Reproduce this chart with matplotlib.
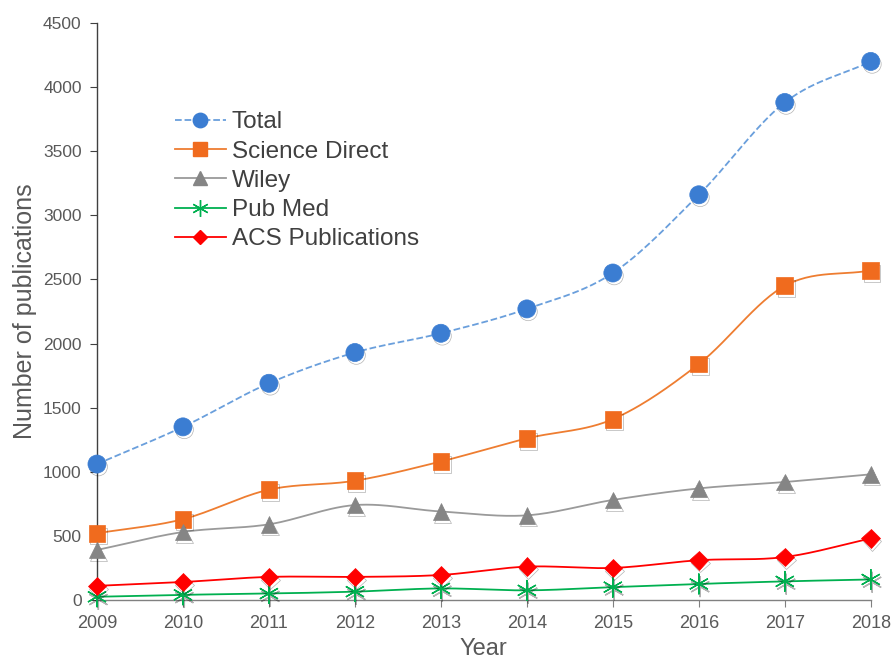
import numpy as np
import matplotlib
matplotlib.use('Agg')
import matplotlib.pyplot as plt
import matplotlib.patheffects as pe

plt.rcParams['font.family'] = ['Liberation Sans', 'DejaVu Sans']

years = [2009, 2010, 2011, 2012, 2013, 2014, 2015, 2016, 2017, 2018]
total = [1060, 1350, 1690, 1930, 2080, 2270, 2550, 3160, 3880, 4200]
science_direct = [520, 630, 860, 930, 1080, 1260, 1410, 1840, 2450, 2570]
wiley = [390, 530, 590, 740, 690, 660, 780, 870, 920, 980]
pub_med = [25, 40, 50, 65, 90, 75, 100, 125, 145, 160]
acs = [110, 140, 180, 180, 195, 260, 250, 310, 335, 480]


def smooth(x, y, n=30):
    # Excel-like smoothed line (Catmull-Rom through the points)
    x = np.asarray(x, float)
    y = np.asarray(y, float)
    px = np.concatenate([[2 * x[0] - x[1]], x, [2 * x[-1] - x[-2]]])
    py = np.concatenate([[2 * y[0] - y[1]], y, [2 * y[-1] - y[-2]]])
    xs, ys = [], []
    t = np.linspace(0, 1, n)
    for i in range(1, len(px) - 2):
        p0, p1, p2, p3 = [np.array([px[j], py[j]]) for j in (i - 1, i, i + 1, i + 2)]
        c1 = p1 + (p2 - p0) / 6
        c2 = p2 - (p3 - p1) / 6
        b = ((1 - t) ** 3)[:, None] * p1 + (3 * (1 - t) ** 2 * t)[:, None] * c1 \
            + (3 * (1 - t) * t ** 2)[:, None] * c2 + (t ** 3)[:, None] * p2
        xs.extend(b[:, 0])
        ys.extend(b[:, 1])
    return np.array(xs), np.array(ys)


fig = plt.figure(figsize=(8.93, 6.62), dpi=100)
ax = fig.add_axes([0.1086, 0.0937, 0.8665, 0.8716])

series = [
    ('Total', total, '#6a9fdc', '--', 'o', '#3b7dd2', 13),
    ('Science Direct', science_direct, '#ee7d31', '-', 's', '#f06b1e', 12),
    ('Wiley', wiley, '#9a9a9a', '-', '^', '#858585', 12),
    ('Pub Med', pub_med, '#00b050', '-', (6, 2, 0), '#00b050', 15),
    ('ACS Publications', acs, '#ff0000', '-', 'D', '#ff0000', 9.5),
]

shadow = [pe.SimpleLineShadow(offset=(1, -2), shadow_color='#000000', alpha=0.3), pe.Normal()]

for name, vals, lc, ls, mk, mc, ms in series:
    sx, sy = smooth(years, vals)
    ax.plot(sx, sy, color=lc, ls=ls, lw=1.3, zorder=2)
    ax.plot(years, vals, ls='none', marker=mk, color=mc, markersize=ms,
            markeredgecolor=mc, markeredgewidth=1.0 if mk == (6, 2, 0) else 0.5,
            path_effects=shadow, zorder=3, clip_on=False)
    ax.plot([], [], color=lc, ls=ls, lw=1.3, marker=mk, markersize=ms * 0.8,
            markerfacecolor=mc, markeredgecolor=mc, label=name)

ax.set_xlim(2009, 2018)
ax.set_ylim(0, 4500)
ax.set_xticks(years)
ax.set_yticks(np.arange(0, 4501, 500))
ax.margins(0)

for s in ['top', 'right']:
    ax.spines[s].set_visible(False)
ax.spines['left'].set_color('#404040')
ax.spines['bottom'].set_color('#808080')
ax.spines['left'].set_linewidth(1.0)
ax.spines['bottom'].set_linewidth(1.0)

ax.tick_params(axis='y', direction='out', length=5, colors='#404040', labelcolor='#595959', labelsize=12.5, pad=6)
ax.tick_params(axis='x', direction='out', length=5, colors='#808080', labelcolor='#595959', labelsize=13, pad=6)

ax.set_xlabel('Year', fontsize=17, color='#595959', labelpad=4)
ax.set_ylabel('Number of publications', fontsize=18, color='#595959', labelpad=4)

leg = ax.legend(loc='upper left', bbox_to_anchor=(0.072, 0.885), frameon=False,
                fontsize=17.5, handlelength=2.1, handletextpad=0.25, labelspacing=0.3,
                labelcolor='#404040')

fig.savefig('out.png', dpi=100)
